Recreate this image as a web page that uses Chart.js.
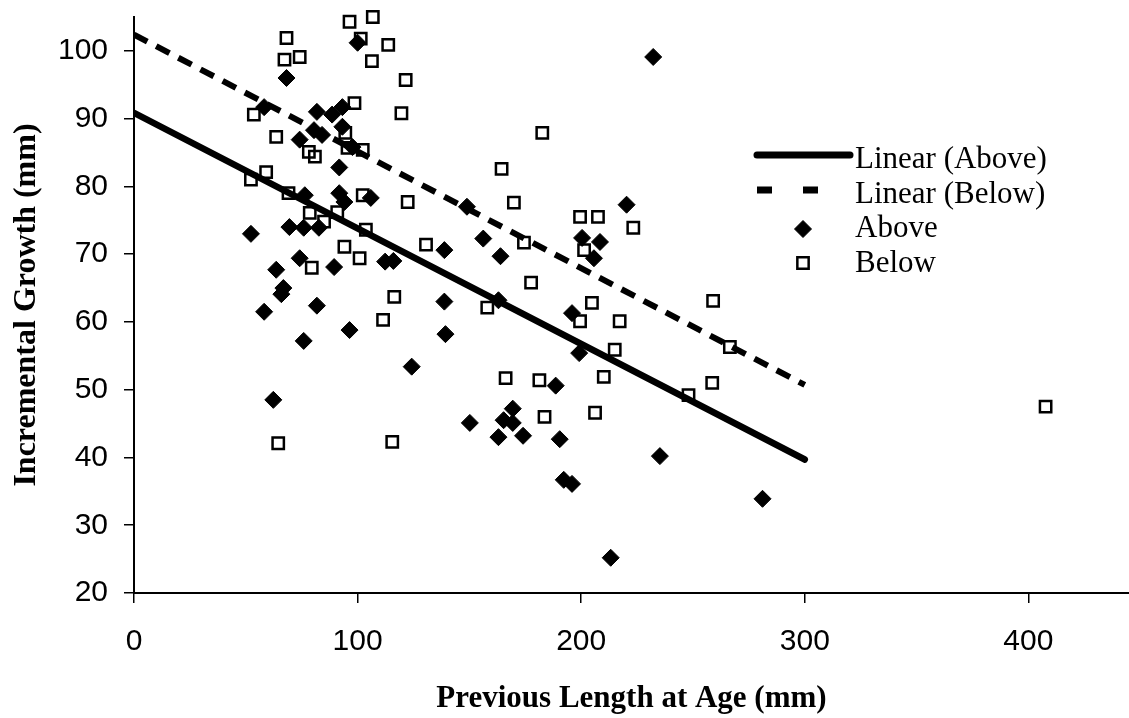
<!DOCTYPE html>
<html>
<head>
<meta charset="utf-8">
<title>Incremental Growth vs Previous Length</title>
<script src="https://cdn.jsdelivr.net/npm/chart.js@4.4.1/dist/chart.umd.min.js"></script>
<style>
    html, body { margin: 0; padding: 0; background: #fff; }
    #chart { display: block; }
</style>
</head>
<body>
<canvas id="chart" width="1129" height="718"></canvas>
<script>
// Fish that grew above / below the reference curve
const aboveLength = [52.3, 58.2, 62.3, 58.2, 63.6, 66.8, 65.9, 68.2, 69.5, 74.1,
    76.4, 75.9, 75.9, 74.1, 80.5, 84.1, 81.8, 82.7, 81.8, 88.6,
    93.2, 93.2, 97.7, 91.8, 91.8, 94.1, 89.5, 96.4, 100.0, 105.9,
    112.3, 116.0, 124.2, 138.8, 138.8, 139.3, 148.9, 150.2, 156.2, 163.0,
    163.9, 163.0, 165.3, 169.4, 169.4, 174.0, 188.6, 190.4, 192.2, 195.9,
    195.9, 199.1, 200.4, 208.4, 205.7, 213.2, 220.3, 232.2, 235.2, 281.1];
const aboveGrowth = [73.0, 61.5, 48.5, 91.7, 67.7, 65.0, 64.1, 96.0, 74.0, 69.4,
    78.7, 73.9, 57.2, 86.9, 88.3, 87.6, 91.0, 73.9, 62.4, 90.6,
    91.7, 88.8, 85.8, 82.8, 79.0, 77.7, 68.1, 58.8, 101.2, 78.3,
    68.9, 69.0, 53.4, 70.6, 63.0, 58.2, 77.0, 45.1, 72.3, 63.2,
    69.7, 43.0, 45.5, 45.1, 47.2, 43.2, 50.6, 42.7, 36.7, 36.1,
    61.3, 55.4, 72.4, 71.8, 69.4, 25.2, 77.3, 99.1, 40.2, 33.9];

const belowLength = [53.6, 52.3, 59.1, 63.6, 64.5, 68.2, 67.3, 74.1, 69.1, 78.2,
    80.9, 78.6, 79.5, 94.5, 95.5, 102.3, 90.9, 94.1, 100.9, 98.6,
    96.4, 106.8, 101.4, 113.7, 106.4, 121.5, 119.6, 102.3, 103.7, 122.4,
    116.4, 111.4, 115.5, 130.6, 158.0, 164.4, 166.2, 169.9, 174.4, 177.6,
    181.3, 182.6, 183.6, 199.5, 207.5, 201.3, 199.5, 204.8, 206.2, 210.1,
    215.0, 217.2, 223.3, 248.0, 258.6, 259.0, 266.5, 407.7, 85.0];
const belowGrowth = [90.6, 81.0, 82.1, 87.3, 42.1, 101.9, 98.7, 99.1, 79.0, 85.1,
    84.4, 76.1, 68.0, 87.9, 85.7, 85.4, 76.2, 71.1, 69.4, 92.3,
    104.3, 105.0, 101.8, 100.9, 98.5, 95.7, 90.8, 78.7, 73.6, 77.7,
    63.7, 60.3, 42.3, 71.4, 62.1, 82.6, 51.7, 77.6, 71.7, 65.8,
    51.4, 87.9, 46.0, 75.5, 75.5, 70.6, 60.1, 62.8, 46.6, 51.9,
    55.9, 60.1, 73.9, 49.2, 51.0, 63.1, 56.3, 47.5, 74.8];

// Linear trend lines, end points
const trendLength = [0, 300];
const aboveTrend = [90.85, 39.7];
const belowTrend = [102.4, 50.7];

const xTicks = [0, 100, 200, 300, 400];
const yTicks = [20, 30, 40, 50, 60, 70, 80, 90, 100];

const xTitle = 'Previous Length at Age (mm)';
const yTitle = 'Incremental Growth (mm)';

const pairs = (xs, ys) => xs.map((x, i) => ({ x: x, y: ys[i] }));

const tickFont = { family: '"Liberation Sans", Arial, sans-serif', size: 30 };
const serif = '"Liberation Serif", "Times New Roman", serif';

// Axis titles drawn around the plot area
const axisTitles = {
    id: 'axisTitles',
    afterDraw(chart) {
        const { ctx, chartArea: a } = chart;
        ctx.save();
        ctx.fillStyle = '#000';
        ctx.font = 'bold 31px ' + serif;
        ctx.textAlign = 'center';
        ctx.textBaseline = 'alphabetic';
        ctx.fillText(xTitle, (a.left + a.right) / 2, 707);
        ctx.font = 'bold 32px ' + serif;
        ctx.translate(35, (a.top + a.bottom) / 2);
        ctx.rotate(-Math.PI / 2);
        ctx.fillText(yTitle, 0, 0);
        ctx.restore();
    }
};

// Legend in the upper right of the plot
const sideLegend = {
    id: 'sideLegend',
    afterDraw(chart) {
        const { ctx } = chart;
        const ds = chart.data.datasets;
        const rows = [
            { set: ds[0], y: 155, base: 168, kind: 'solid' },
            { set: ds[1], y: 190, base: 203, kind: 'dash' },
            { set: ds[2], y: 229, base: 237, kind: 'point' },
            { set: ds[3], y: 263, base: 272, kind: 'point' }
        ];
        ctx.save();
        rows.forEach(r => {
            ctx.strokeStyle = '#000';
            ctx.fillStyle = '#000';
            if (r.kind === 'solid') {
                ctx.lineWidth = 7;
                ctx.lineCap = 'round';
                ctx.setLineDash([]);
                ctx.beginPath();
                ctx.moveTo(757, r.y);
                ctx.lineTo(850, r.y);
                ctx.stroke();
            } else if (r.kind === 'dash') {
                ctx.lineWidth = 7;
                ctx.lineCap = 'butt';
                ctx.setLineDash([15, 31]);
                ctx.beginPath();
                ctx.moveTo(757, r.y);
                ctx.lineTo(819, r.y);
                ctx.stroke();
                ctx.setLineDash([]);
            } else {
                ctx.lineWidth = r.set.borderWidth;
                ctx.fillStyle = r.set.backgroundColor;
                ctx.strokeStyle = r.set.borderColor;
                Chart.helpers.drawPoint(ctx, {
                    pointStyle: r.set.pointStyle,
                    radius: r.set.pointRadius,
                    rotation: 0,
                    borderWidth: r.set.borderWidth
                }, 803, r.y);
            }
            ctx.fillStyle = '#000';
            ctx.font = '31px ' + serif;
            ctx.textAlign = 'left';
            ctx.textBaseline = 'alphabetic';
            ctx.fillText(r.set.label, 855, r.base);
        });
        ctx.restore();
    }
};

new Chart(document.getElementById('chart'), {
    type: 'scatter',
    data: {
        datasets: [
            {
                type: 'line',
                label: 'Linear (Above)',
                data: pairs(trendLength, aboveTrend),
                borderColor: '#000',
                borderWidth: 6.5,
                borderCapStyle: 'round',
                pointRadius: 0,
                fill: false,
                order: 0
            },
            {
                type: 'line',
                label: 'Linear (Below)',
                data: pairs(trendLength, belowTrend),
                borderColor: '#000',
                borderWidth: 6,
                borderDash: [15, 10],
                borderCapStyle: 'butt',
                pointRadius: 0,
                fill: false,
                order: 0
            },
            {
                label: 'Above',
                data: pairs(aboveLength, aboveGrowth),
                pointStyle: 'rectRot',
                pointRadius: 8.5,
                backgroundColor: '#000',
                borderColor: '#000',
                borderWidth: 1,
                clip: false,
                order: 1
            },
            {
                label: 'Below',
                data: pairs(belowLength, belowGrowth),
                pointStyle: 'rect',
                pointRadius: 8,
                backgroundColor: 'rgba(0,0,0,0)',
                borderColor: '#000',
                borderWidth: 2.5,
                clip: false,
                order: 1
            }
        ]
    },
    options: {
        responsive: false,
        devicePixelRatio: 1,
        animation: false,
        layout: { autoPadding: false, padding: { top: 17, right: 0, bottom: 0, left: 0 } },
        plugins: {
            legend: { display: false },
            tooltip: { enabled: false }
        },
        scales: {
            x: {
                type: 'linear',
                min: 0,
                max: 445,
                afterBuildTicks: s => { s.ticks = xTicks.map(v => ({ value: v })); },
                afterFit: s => { s.height = 125; s.paddingLeft = 0; s.paddingRight = 0; },
                grid: { drawOnChartArea: false, drawTicks: true, tickLength: 10, color: '#000', lineWidth: 1.5 },
                border: { display: true, color: '#000', width: 2 },
                ticks: { color: '#000', font: tickFont, padding: 21, maxRotation: 0 }
            },
            y: {
                type: 'linear',
                min: 20,
                max: 105,
                afterBuildTicks: s => { s.ticks = yTicks.map(v => ({ value: v })); },
                afterFit: s => { s.width = 134; s.paddingTop = 0; s.paddingBottom = 0; },
                grid: { drawOnChartArea: false, drawTicks: true, tickLength: 10, color: '#000', lineWidth: 1.5 },
                border: { display: true, color: '#000', width: 2 },
                ticks: { color: '#000', font: tickFont, padding: 16 }
            }
        }
    },
    plugins: [axisTitles, sideLegend]
});
</script>
</body>
</html>
